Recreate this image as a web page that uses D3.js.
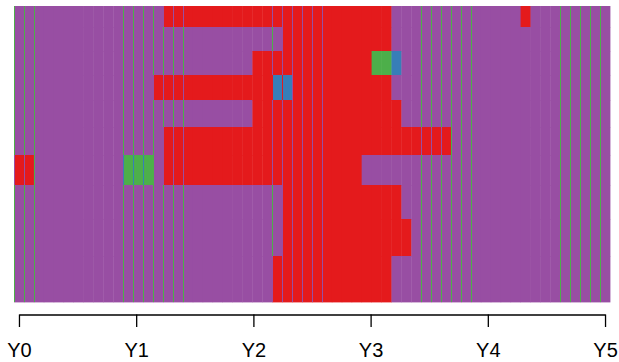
<!DOCTYPE html>
<html>
<head>
<meta charset="utf-8">
<script src="https://cdn.jsdelivr.net/npm/d3@7"></script>
<style>
  html, body { margin: 0; padding: 0; background: #fff; }
  svg { display: block; }
</style>
</head>
<body>
<svg id="chart" width="619" height="362"></svg>
<script>
// ---- data -------------------------------------------------------------
// States carried by each track at each of 60 time steps
// (R = red, B = blue, G = green, P = purple); spaces only group by ten.
const stateKeys   = ["R", "B", "G", "P"];
const stateColors = ["#E41A1C", "#377EB8", "#4DAF4A", "#984EA3"];

const trackStates = [
  "PPPPPPPPPP PPPPPRRRRR RRRRRRRRRR RRRRRRRRPP PPPPPPPPPP PRPPPPPPPP",
  "PPPPPPPPPP PPPPPPPPPP PPPPPPPRRR RRRRRRRRPP PPPPPPPPPP PPPPPPPPPP",
  "PPPPPPPPPP PPPPPPPPPP PPPPRRRRRR RRRRRRGGBP PPPPPPPPPP PPPPPPPPPP",
  "PPPPPPPPPP PPPPRRRRRR RRRRRRBBRR RRRRRRRRPP PPPPPPPPPP PPPPPPPPPP",
  "PPPPPPPPPP PPPPPPPPPP PPPPRRRRRR RRRRRRRRRP PPPPPPPPPP PPPPPPPPPP",
  "PPPPPPPPPP PPPPPRRRRR RRRRRRRRRR RRRRRRRRRR RRRRPPPPPP PPPPPPPPPP",
  "RRPPPPPPPP PGGGPRRRRR RRRRRRRRRR RRRRRPPPPP PPPPPPPPPP PPPPPPPPPP",
  "PPPPPPPPPP PPPPPPPPPP PPPPPPPRRR RRRRRRRRRP PPPPPPPPPP PPPPPPPPPP",
  "PPPPPPPPPP PPPPPPPPPP PPPPPPPRRR RRRRRRRRRR PPPPPPPPPP PPPPPPPPPP",
  "PPPPPPPPPP PPPPPPPPPP PPPPPPRRRR RRRRRRRRPP PPPPPPPPPP PPPPPPPPPP"
];

// Relative size of each track (drawn as its height)
const trackSizes = [21, 24, 24, 25, 27, 28, 30, 34, 37, 46];

// Time steps that open with a marked boundary
const markedSteps = [0, 1, 2, 11, 12, 13, 14, 15, 16, 17,
                     26, 27, 28, 29, 30, 31, 41, 42, 43, 44, 45, 46,
                     55, 56, 57, 58, 59];

// Axis ticks
const yearValues = [0, 1, 2, 3, 4, 5];
const yearLabels = ["Y0", "Y1", "Y2", "Y3", "Y4", "Y5"];

// ---- layout -----------------------------------------------------------
const svg = d3.select("#chart");
const plot = { left: 14, right: 610, top: 6, bottom: 302 };

const rows = trackStates.map((s, i) => ({
  index: i,
  size: trackSizes[i],
  cells: s.replace(/\s+/g, "").split("")
}));
const nSteps = rows[0].cells.length;

// Stack tracks top-down, each as tall as its size
let acc = 0;
rows.forEach(r => { r.start = acc; acc += r.size; r.end = acc; });
const y = d3.scaleLinear().domain([0, acc]).range([plot.top, plot.bottom]);

const x = d3.scaleBand()
  .domain(d3.range(nSteps))
  .range([plot.left, plot.right])
  .padding(0);

const color = d3.scaleOrdinal().domain(stateKeys).range(stateColors);
// Boundary marks take the preceding colour of the state cycle
const markColor = d3.scaleOrdinal()
  .domain(stateKeys)
  .range(stateKeys.map((_, i) => stateColors[(i + stateKeys.length - 1) % stateKeys.length]));

// ---- cells ------------------------------------------------------------
const cells = rows.flatMap(r => r.cells.map((state, step) => ({ row: r, step, state })));

svg.append("g")
  .selectAll("rect")
  .data(cells)
  .join("rect")
  .attr("x", d => x(d.step))
  .attr("width", x.bandwidth() + 0.4)
  .attr("y", d => y(d.row.start))
  .attr("height", d => y(d.row.end) - y(d.row.start) + 0.4)
  .attr("fill", d => color(d.state));

// ---- boundary marks ---------------------------------------------------
const marks = cells.filter(d => markedSteps.includes(d.step));

svg.append("g")
  .attr("shape-rendering", "crispEdges")
  .selectAll("rect")
  .data(marks)
  .join("rect")
  .attr("x", d => Math.round(x(d.step)))
  .attr("width", 1)
  .attr("y", d => y(d.row.start))
  .attr("height", d => y(d.row.end) - y(d.row.start))
  .attr("fill", d => markColor(d.state));

// ---- time axis --------------------------------------------------------
const yearX = d3.scaleLinear()
  .domain([yearValues[0], yearValues[yearValues.length - 1]])
  .range([x(0) + x.bandwidth() / 2, x(nSteps - 1) + x.bandwidth() / 2]);

const axis = d3.axisBottom(yearX)
  .tickValues(yearValues)
  .tickFormat((d, i) => yearLabels[i])
  .tickSizeInner(12.5)
  .tickSizeOuter(0)
  .tickPadding(15.8);

const gAxis = svg.append("g")
  .attr("transform", "translate(0,314.5)")
  .call(axis);

gAxis.select(".domain").attr("stroke", "#000").attr("stroke-width", 1.3);
gAxis.selectAll(".tick line").attr("stroke", "#000").attr("stroke-width", 1.3);
gAxis.selectAll(".tick text")
  .attr("fill", "#000")
  .style("font-family", "'Liberation Sans', Arial, Helvetica, sans-serif")
  .style("font-size", "20px");
</script>
</body>
</html>
